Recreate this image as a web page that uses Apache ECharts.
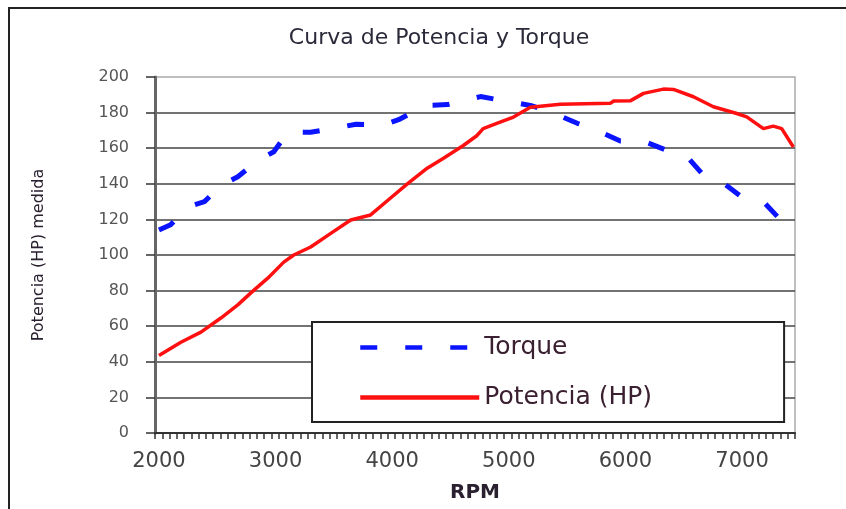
<!DOCTYPE html>
<html>
<head>
<meta charset="utf-8">
<script src="https://cdn.jsdelivr.net/npm/echarts@6/dist/echarts.min.js"></script>
<style>
  html, body { margin: 0; padding: 0; background: #fff; }
  #chart { width: 846px; height: 509px; }
</style>
</head>
<body>
<div id="chart"></div>
<script>
// ---- data ----
const titleText = 'Curva de Potencia y Torque';
const xAxisName = 'RPM';
const yAxisName = 'Potencia (HP) medida';
const xTickLabels = [2000, 3000, 4000, 5000, 6000, 7000];
const yTicks = [0, 20, 40, 60, 80, 100, 120, 140, 160, 180, 200];

const torqueRpm = [2000, 2100, 2250, 2390, 2530, 2676, 2848, 2985, 3105, 3300, 3530, 3690, 3925, 4055, 4285, 4475, 4757, 4928, 5185, 5356, 5587, 5759, 5956, 6153, 6384, 6538, 6666, 6829, 7009, 7197, 7326, 7445];
const torqueVal = [114, 117, 127, 130, 139, 144, 153, 158, 169, 169, 171.5, 173.5, 173, 176, 184, 184.5, 189, 187, 184, 180.5, 174, 170, 164, 164, 158, 154.5, 145, 141, 132, 129, 120, 117];

const powerRpm = [2000, 2188, 2360, 2531, 2676, 2788, 2933, 3070, 3156, 3301, 3470, 3644, 3815, 3986, 4130, 4300, 4440, 4610, 4725, 4780, 4925, 5040, 5185, 5442, 5870, 5899, 6041, 6155, 6326, 6412, 6583, 6754, 6955, 7040, 7183, 7268, 7340, 7440];
const powerVal = [43.5, 51, 56.7, 64.6, 72, 78.7, 87, 96, 100, 104.5, 112, 119.7, 122.5, 132, 140, 148.8, 154.4, 161.5, 167, 171, 174.6, 177.5, 183, 184.7, 185.2, 186.5, 186.6, 190.8, 193.2, 193, 188.9, 183.3, 179.5, 177.6, 171, 172.4, 171, 160.7];

const seriesNames = ['Torque', 'Potencia (HP)'];

// ---- build ----
const X_MIN = 1966, X_MAX = 7454;
const minorTicks = [];
for (let i = 0; i <= 88; i++) minorTicks.push(X_MIN + (X_MAX - X_MIN) * i / 88);

const FONT = 'DejaVu Sans';
const chart = echarts.init(document.getElementById('chart'), null, { renderer: 'canvas' });
chart.setOption({
  animation: false,
  backgroundColor: '#fff',
  textStyle: { fontFamily: FONT },
  title: {
    text: titleText,
    left: 434,
    textAlign: 'center',
    top: 22,
    textStyle: { fontFamily: FONT, fontSize: 22, fontWeight: 'normal', color: '#2a2a3a' }
  },
  graphic: [{
    type: 'rect',
    shape: { x: 9, y: 8, width: 860, height: 520 },
    style: { fill: 'none', stroke: '#222', lineWidth: 2 },
    silent: true, z: -1
  }],
  grid: {
    left: 155, top: 77, width: 640, height: 356,
    show: true, borderColor: '#aaa', borderWidth: 1.5, backgroundColor: '#fff'
  },
  legend: {
    orient: 'vertical',
    left: 312, top: 322,
    padding: [13, 132, 12, 46],
    itemWidth: 119, itemHeight: 24, itemGap: 25,
    backgroundColor: '#fff',
    borderColor: '#222', borderWidth: 2,
    itemStyle: { opacity: 0 },
    lineStyle: { width: 4.5 },
    textStyle: { fontFamily: FONT, fontSize: 25, color: '#3a2030' },
    data: seriesNames
  },
  xAxis: {
    type: 'value',
    min: X_MIN, max: X_MAX,
    name: xAxisName,
    nameLocation: 'middle',
    nameGap: 50,
    nameTextStyle: { fontFamily: FONT, fontSize: 20, fontWeight: 'bold', color: '#2a2030' },
    axisLine: { show: true, onZero: false, lineStyle: { color: '#333', width: 2 } },
    axisTick: { show: true, length: 6, customValues: minorTicks, lineStyle: { color: '#333', width: 1.5 } },
    axisLabel: { customValues: xTickLabels, margin: 18, fontFamily: FONT, fontSize: 21, color: '#444', formatter: v => String(Math.round(v)) },
    splitLine: { show: false }
  },
  yAxis: {
    type: 'value',
    min: 0, max: 200, interval: 20,
    name: yAxisName,
    nameLocation: 'middle',
    nameGap: 108,
    nameTextStyle: { fontFamily: FONT, fontSize: 16, color: '#2a2030' },
    axisLine: { show: true, lineStyle: { color: '#666', width: 3 } },
    axisTick: { show: true, length: 9, lineStyle: { color: '#333', width: 1.5 } },
    axisLabel: { margin: 26, fontFamily: FONT, fontSize: 16, color: '#555' },
    splitLine: { show: true, showMaxLine: false, lineStyle: { color: '#444', width: 1.5 } }
  },
  series: [
    {
      name: seriesNames[0],
      type: 'line',
      data: torqueRpm.map((r, i) => [r, torqueVal[i]]),
      showSymbol: false, symbol: 'none',
      lineStyle: { color: '#0a14ff', width: 5, type: [17, 28], cap: 'butt' },
      itemStyle: { color: '#0a14ff' },
      z: 3
    },
    {
      name: seriesNames[1],
      type: 'line',
      data: powerRpm.map((r, i) => [r, powerVal[i]]),
      showSymbol: false, symbol: 'none',
      lineStyle: { color: '#ff1010', width: 3.5 },
      itemStyle: { color: '#ff1010' },
      z: 3
    }
  ]
});
</script>
</body>
</html>
